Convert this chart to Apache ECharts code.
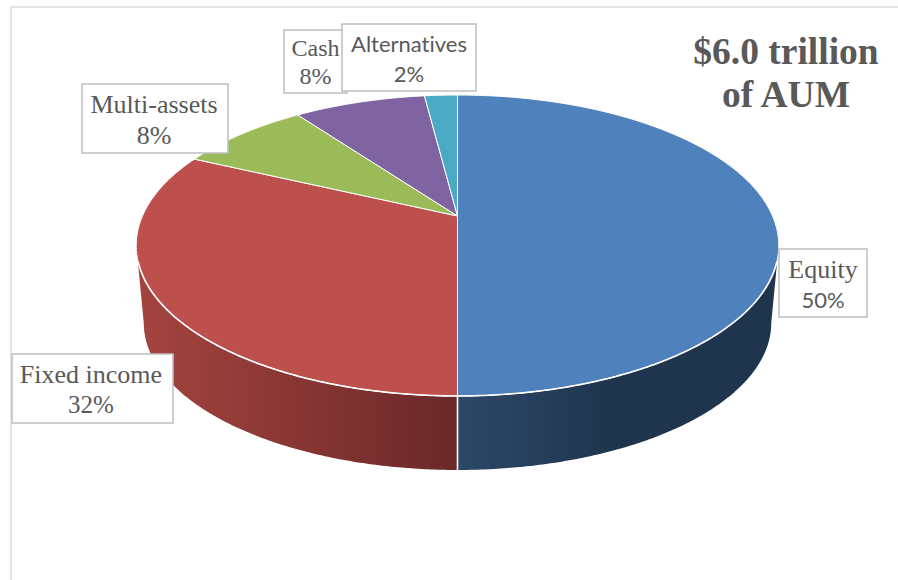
<!DOCTYPE html>
<html>
<head>
<meta charset="utf-8">
<style>html,body{margin:0;padding:0;background:#fff}#chart{width:898px;height:580px}#chart text{font-variant-ligatures:none !important}</style>
<script src="https://cdn.jsdelivr.net/npm/echarts@6/dist/echarts.min.js"></script>
</head>
<body>
<div id="chart"></div>
<script>
// AUM by asset class, clockwise from twelve o'clock
const categories = ['Equity', 'Fixed income', 'Multi-assets', 'Cash', 'Alternatives'];
const shares = [50, 32, 8, 8, 2];
const titleLines = ['$6.0 trillion', 'of AUM'];

const topColors = ['#4f81bd', '#bd4f4c', '#9bbb59', '#8064a2', '#4aa9c4'];
const wallStops = [
  [[0, '#2c4868'], [0.5, '#1f344d'], [1, '#1f344d']],
  [[0, '#a5443f'], [1, '#6a2828']],
  [[0, '#6b8038'], [1, '#6b8038']],
  [[0, '#574470'], [1, '#574470']],
  [[0, '#2f7488'], [1, '#2f7488']]
];

// Label boxes: [left, top, right, bottom, text centre x, name y, percent y]
const labelBoxes = [
  [779, 249, 867, 317, 823, 269, 299],
  [12, 354, 173, 423, 91, 374, 404],
  [82, 84, 228, 153, 154, 104, 135],
  [284, 30, 347, 93, 315.5, 48, 76],
  [342, 24, 476, 91, 409, 43, 73]
];
const nameFonts = ['26px "Liberation Serif"', '26px "Liberation Serif"', '26px "Liberation Serif"', '24px "Liberation Serif"', '22px Lato'];
const percentFonts = ['22px Lato', '25px "Liberation Serif"', '26px "Liberation Serif"', '24px "Liberation Serif"', '22px Lato'];

// Tilted disc: perspective projection of the unit circle
const APEX_X = 457.5, APEX_Y = 216, SPREAD = 315, DEPTH_K = 0.196, LIFT = 144.7;
// Lower rim of the disc, a slightly smaller copy shifted down
const RIM_SCALE = 0.9767, TOP_MID_Y = 245.5, RIM_MID_Y = 323;
const FRONT_FROM = 101.3, FRONT_TO = 258.7;

function project(deg) {
  const t = deg * Math.PI / 180;
  const X = Math.sin(t), Y = Math.cos(t), d = 1 + DEPTH_K * Y;
  return [APEX_X + SPREAD * X / d, APEX_Y - LIFT * Y / d];
}
function projectRim(deg) {
  const p = project(deg);
  return [APEX_X + (p[0] - APEX_X) * RIM_SCALE, RIM_MID_Y + (p[1] - TOP_MID_Y) * RIM_SCALE];
}
function arc(fn, from, to) {
  const pts = [], n = Math.max(2, Math.ceil(Math.abs(to - from) * 2));
  for (let i = 0; i <= n; i++) pts.push(fn(from + (to - from) * i / n));
  return pts;
}

const total = shares.reduce((a, b) => a + b, 0);
function sliceAngles(i) {
  let before = 0;
  for (let k = 0; k < i; k++) before += shares[k];
  return [before / total * 360, (before + shares[i]) / total * 360];
}

const dataRows = categories.map((c, i) => [i, shares[i]]);

function renderWall(params, api) {
  const i = api.value(0), a = sliceAngles(i);
  const from = Math.max(a[0], FRONT_FROM), to = Math.min(a[1], FRONT_TO);
  if (to <= from) return null;
  const pts = arc(project, from, to).concat(arc(projectRim, to, from));
  const fill = new echarts.graphic.LinearGradient(0, 0, 1, 0,
    wallStops[i].map(s => ({ offset: s[0], color: s[1] })));
  return { type: 'polygon', shape: { points: pts }, style: { fill: fill } };
}

function renderFace(params, api) {
  const i = api.value(0), a = sliceAngles(i);
  const pts = [[APEX_X, APEX_Y]].concat(arc(project, a[0], a[1]));
  const children = [{
    type: 'polygon', shape: { points: pts },
    style: { fill: topColors[i], stroke: '#fff', lineWidth: 1, lineJoin: 'round' }
  }];
  const from = Math.max(a[0], FRONT_FROM + 6), to = Math.min(a[1], FRONT_TO - 6);
  if (to > from) {
    children.push({
      type: 'polyline', shape: { points: arc(project, from, to) },
      style: { fill: 'none', stroke: '#fff', lineWidth: 1.6 }
    });
  }
  // White seam down the wall where two front slices meet
  if (a[1] > FRONT_FROM && a[1] < FRONT_TO) {
    const top = project(a[1]), low = projectRim(a[1]);
    children.push({
      type: 'line', shape: { x1: top[0], y1: top[1], x2: low[0], y2: low[1] },
      style: { stroke: '#fff', lineWidth: 1.6 }
    });
  }
  return { type: 'group', children: children };
}

function renderLabel(params, api) {
  const i = api.value(0), b = labelBoxes[i];
  const common = { fill: '#595959', align: 'center', verticalAlign: 'middle' };
  return { type: 'group', children: [
    { type: 'rect', shape: { x: b[0], y: b[1], width: b[2] - b[0], height: b[3] - b[1] },
      style: { fill: '#fff', stroke: '#bfbfbf', lineWidth: 1.5 } },
    { type: 'text', style: Object.assign({ x: b[4], y: b[5], text: categories[i], font: nameFonts[i] }, common) },
    { type: 'text', style: Object.assign({ x: b[4], y: b[6], text: api.value(1) + '%', font: percentFonts[i] }, common) }
  ] };
}

const chart = echarts.init(document.getElementById('chart'), null, { renderer: 'svg' });
chart.setOption({
  backgroundColor: '#fff',
  animation: false,
  tooltip: { show: false },
  graphic: [
    { type: 'polyline', z: 0, shape: { points: [[11, 580], [11, 7], [898, 7]] },
      style: { fill: 'none', stroke: '#dcdcdc', lineWidth: 1.5 } },
    { type: 'text', z: 20, style: { x: 786, y: 51, text: titleLines[0], font: 'bold 37.5px "Liberation Serif"',
      fill: '#595959', align: 'center', verticalAlign: 'middle' } },
    { type: 'text', z: 20, style: { x: 786, y: 94, text: titleLines[1], font: 'bold 37.5px "Liberation Serif"',
      fill: '#595959', align: 'center', verticalAlign: 'middle' } }
  ],
  series: [
    { type: 'custom', coordinateSystem: 'none', z: 2, silent: true, data: dataRows, renderItem: renderWall },
    { type: 'custom', coordinateSystem: 'none', z: 3, silent: true, data: dataRows, renderItem: renderFace },
    { type: 'custom', coordinateSystem: 'none', z: 4, silent: true, data: dataRows, renderItem: renderLabel }
  ]
});
</script>
</body>
</html>
